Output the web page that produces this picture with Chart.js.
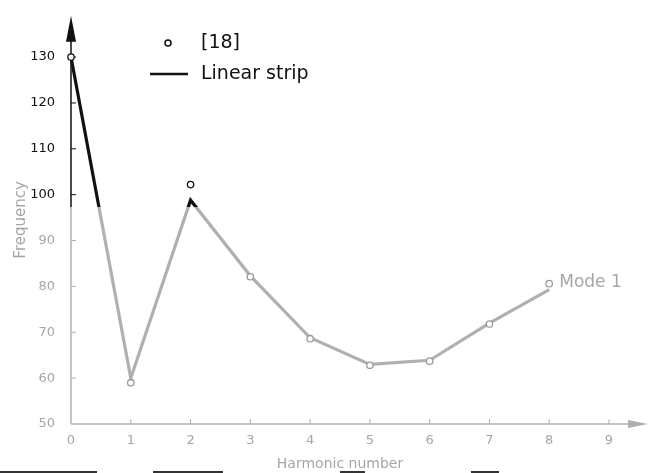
<!DOCTYPE html>
<html>
<head>
<meta charset="utf-8">
<script src="https://cdn.jsdelivr.net/npm/chart.js@4.4.1/dist/chart.umd.min.js"></script>
<style>
  html, body { margin: 0; padding: 0; background: #fff; }
  #wrap { width: 658px; height: 473px; position: relative; }
</style>
</head>
<body>
<div id="wrap"><canvas id="chart"></canvas></div>
<script>
// Dados
const harmonics = [0, 1, 2, 3, 4, 5, 6, 7, 8];
const linearStrip = [130, 60, 98.8, 82.3, 68.8, 63.0, 63.9, 72.0, 79.3];
const ref18 = [130, 59.0, 102.2, 82.1, 68.6, 62.8, 63.7, 71.8, 80.6];
const xTicks = [0, 1, 2, 3, 4, 5, 6, 7, 8, 9];
const yTicks = [50, 60, 70, 80, 90, 100, 110, 120, 130];

// Acima deste valor o traço da figura sai preto (resto cinza)
const darkAbove = 97.3;
const BLACK = '#111';
const GRAY = '#b0b0b0';
const TEXT_GRAY = '#a6a6a6';
const FONT = '"DejaVu Sans", sans-serif';

function splitGradient(chart) {
    const { ctx, chartArea, scales } = chart;
    if (!chartArea) return GRAY;
    const yp = scales.y.getPixelForValue(darkAbove);
    const stop = Math.min(1, Math.max(0, (yp - chartArea.top) / (chartArea.bottom - chartArea.top)));
    const g = ctx.createLinearGradient(0, chartArea.top, 0, chartArea.bottom);
    g.addColorStop(0, BLACK);
    g.addColorStop(stop, BLACK);
    g.addColorStop(stop, GRAY);
    g.addColorStop(1, GRAY);
    return g;
}

// Eixos com setas, marcas de escala, legenda e rótulo "Mode 1"
const decorPlugin = {
    id: 'decor',
    beforeDatasetsDraw(chart) {
        const { ctx, chartArea, scales } = chart;
        const x0 = scales.x.getPixelForValue(0);
        const yBase = scales.y.getPixelForValue(50);
        const ySplit = scales.y.getPixelForValue(darkAbove);
        ctx.save();
        ctx.lineWidth = 1.5;
        // eixo y
        ctx.strokeStyle = GRAY;
        ctx.beginPath(); ctx.moveTo(x0, yBase); ctx.lineTo(x0, ySplit); ctx.stroke();
        ctx.strokeStyle = BLACK;
        ctx.beginPath(); ctx.moveTo(x0, ySplit); ctx.lineTo(x0, chartArea.top + 20); ctx.stroke();
        ctx.fillStyle = BLACK;
        ctx.beginPath();
        ctx.moveTo(x0, chartArea.top);
        ctx.lineTo(x0 - 5, chartArea.top + 26);
        ctx.lineTo(x0 + 5, chartArea.top + 26);
        ctx.closePath(); ctx.fill();
        // eixo x
        const xEnd = chartArea.right + 39;
        ctx.strokeStyle = GRAY;
        ctx.beginPath(); ctx.moveTo(x0, yBase); ctx.lineTo(xEnd - 12, yBase); ctx.stroke();
        ctx.fillStyle = GRAY;
        ctx.beginPath();
        ctx.moveTo(xEnd, yBase);
        ctx.lineTo(xEnd - 20, yBase - 4);
        ctx.lineTo(xEnd - 20, yBase + 4);
        ctx.closePath(); ctx.fill();
        // marcas
        ctx.lineWidth = 1;
        yTicks.forEach(v => {
            if (v === 50) return;
            const p = scales.y.getPixelForValue(v);
            ctx.strokeStyle = v >= 100 ? BLACK : GRAY;
            ctx.beginPath(); ctx.moveTo(x0, p); ctx.lineTo(x0 + 5, p); ctx.stroke();
        });
        xTicks.forEach(v => {
            if (v === 0) return;
            const p = scales.x.getPixelForValue(v);
            ctx.strokeStyle = GRAY;
            ctx.beginPath(); ctx.moveTo(p, yBase); ctx.lineTo(p, yBase - 5); ctx.stroke();
        });
        ctx.restore();
    },
    afterDraw(chart) {
        const { ctx, scales } = chart;
        ctx.save();
        // legenda
        ctx.strokeStyle = BLACK;
        ctx.fillStyle = '#fff';
        ctx.lineWidth = 1.5;
        ctx.beginPath(); ctx.arc(168, 43, 3, 0, Math.PI * 2); ctx.fill(); ctx.stroke();
        ctx.lineWidth = 2.5;
        ctx.beginPath(); ctx.moveTo(150, 74); ctx.lineTo(188, 74); ctx.stroke();
        ctx.fillStyle = BLACK;
        ctx.font = '19px ' + FONT;
        ctx.textBaseline = 'middle';
        ctx.textAlign = 'left';
        ctx.fillText('[18]', 201, 43);
        ctx.fillText('Linear strip', 201, 74);
        // rótulo da curva
        const last = harmonics.length - 1;
        ctx.fillStyle = TEXT_GRAY;
        ctx.font = '17px ' + FONT;
        ctx.fillText('Mode 1', scales.x.getPixelForValue(harmonics[last]) + 10,
            scales.y.getPixelForValue(ref18[last]) - 1);
        // riscos do scan no rodapé
        ctx.strokeStyle = '#333';
        ctx.lineWidth = 2;
        [[0, 97], [153, 223], [340, 365], [471, 499]].forEach(([a, b]) => {
            ctx.beginPath(); ctx.moveTo(a, 472); ctx.lineTo(b, 472); ctx.stroke();
        });
        ctx.restore();
    }
};

const ctx = document.getElementById('chart').getContext('2d');
new Chart(ctx, {
    type: 'line',
    data: {
        datasets: [
            {
                label: '[18]',
                data: harmonics.map((h, i) => ({ x: h, y: ref18[i] })),
                showLine: false,
                order: 0,
                pointRadius: 3.2,
                pointBorderWidth: 1.3,
                pointBackgroundColor: '#fff',
                pointBorderColor: c => (c.raw && c.raw.y >= darkAbove ? BLACK : '#999'),
                clip: false
            },
            {
                label: 'Linear strip',
                data: harmonics.map((h, i) => ({ x: h, y: linearStrip[i] })),
                order: 1,
                borderColor: c => splitGradient(c.chart),
                borderWidth: 3.2,
                pointRadius: 0,
                tension: 0,
                fill: false,
                clip: false
            }
        ]
    },
    options: {
        responsive: true,
        maintainAspectRatio: false,
        animation: false,
        layout: { padding: { top: 8, right: 49, bottom: 0, left: 0 } },
        plugins: {
            legend: { display: false },
            tooltip: { enabled: false },
            title: { display: false }
        },
        scales: {
            x: {
                type: 'linear',
                min: 0,
                max: 9,
                afterBuildTicks: s => { s.ticks = xTicks.map(v => ({ value: v })); },
                afterFit: s => { s.height = 49; },
                grid: { display: false },
                border: { display: false },
                ticks: {
                    color: TEXT_GRAY,
                    font: { family: FONT, size: 13 },
                    padding: 1,
                    maxRotation: 0
                },
                title: {
                    display: true,
                    text: 'Harmonic number',
                    color: TEXT_GRAY,
                    font: { family: FONT, size: 14 },
                    padding: { top: 2, bottom: 0 }
                }
            },
            y: {
                type: 'linear',
                min: 50,
                max: 139,
                afterBuildTicks: s => { s.ticks = yTicks.map(v => ({ value: v })); },
                afterFit: s => { s.width = 71; },
                grid: { display: false },
                border: { display: false },
                ticks: {
                    color: c => (c.tick && c.tick.value >= 100 ? BLACK : TEXT_GRAY),
                    font: { family: FONT, size: 13 },
                    padding: 8
                },
                title: {
                    display: true,
                    text: 'Frequency',
                    color: TEXT_GRAY,
                    font: { family: FONT, size: 15 },
                    padding: { top: 12, bottom: 4 }
                }
            }
        }
    },
    plugins: [decorPlugin]
});
</script>
</body>
</html>
